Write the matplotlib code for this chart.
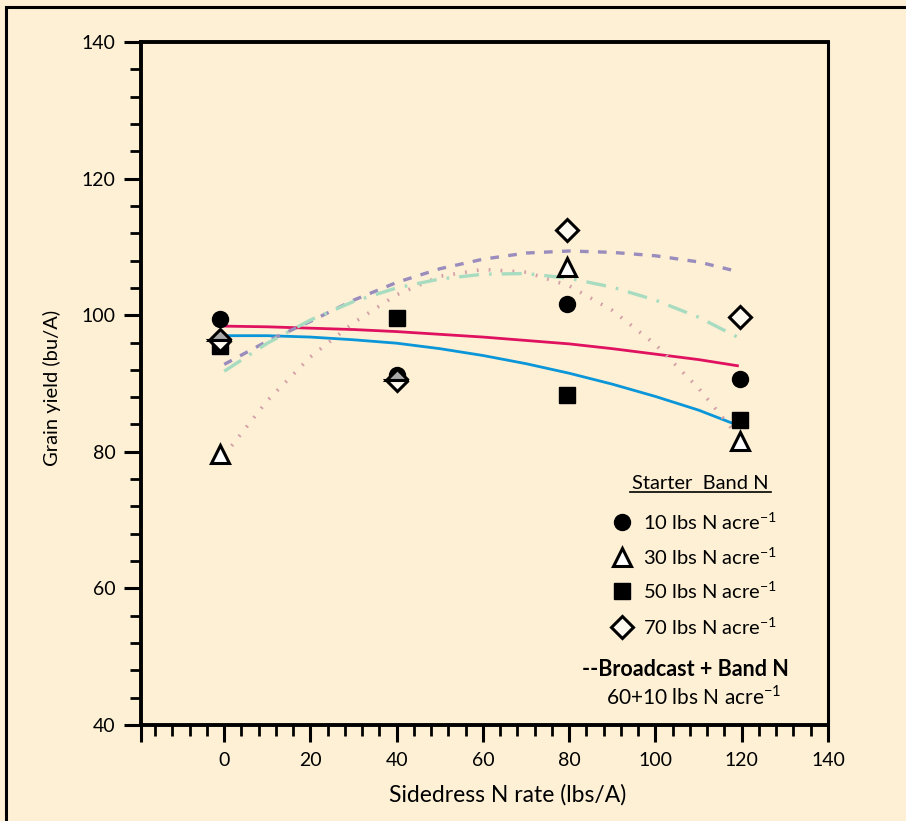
import numpy as np
import matplotlib.pyplot as plt
from matplotlib.patches import Rectangle
from matplotlib.lines import Line2D

# sidedress N rate (x) and grain yield (y) for each starter band N rate
x_pts = [-1, 40, 79.5, 119.5]
y_10 = [99.5, 91.2, 101.6, 90.7]
y_30 = [79.7, np.nan, 107.1, 81.6]
y_50 = [95.5, 99.6, 88.3, 84.6]
y_70 = [96.3, 90.5, 112.5, 99.8]

# fitted curves
curve_x = [0, 10, 20, 30, 40, 50, 60, 70, 80, 90, 100, 110, 119]
fit_10 = [98.4, 98.3, 98.1, 97.9, 97.6, 97.2, 96.8, 96.3, 95.8, 95.1, 94.3, 93.5, 92.6]
fit_50 = [97.0, 97.0, 96.8, 96.4, 95.9, 95.1, 94.1, 92.9, 91.5, 89.9, 88.1, 86.1, 83.9]
fit_30 = [79.5, 87.5, 93.9, 98.9, 103.0, 105.7, 106.7, 106.3, 104.3, 100.7, 95.7, 89.3, 82.4]
fit_70 = [92.8, 96.2, 99.1, 102.2, 104.8, 106.8, 108.2, 109.1, 109.4, 109.2, 108.7, 107.8, 106.4]
fit_bc = [91.8, 95.9, 99.3, 102.0, 104.0, 105.3, 106.0, 106.1, 105.4, 104.1, 102.2, 99.7, 96.8]

legend_labels = ['10 lbs N acre', '30 lbs N acre', '50 lbs N acre', '70 lbs N acre']

plt.rcParams['font.family'] = ['Lato', 'DejaVu Sans']
plt.rcParams['mathtext.fontset'] = 'custom'
plt.rcParams['mathtext.rm'] = 'Lato'

bg = '#fdf0d5'
W, H = 906, 821
fig = plt.figure(figsize=(W / 100, H / 100), dpi=100, facecolor=bg)
ax = fig.add_axes([141 / W, 1 - 725 / H, 687 / W, 683 / H], facecolor=bg)

# outer frame
fig.add_artist(Rectangle((6 / W, -0.1), 1.2, 1.1 - 7 / H, transform=fig.transFigure,
                         fill=False, lw=2.2, ec='black'))

# curves
ax.plot(curve_x, fit_10, color='#e0115f', lw=2.0, zorder=2)
ax.plot(curve_x, fit_50, color='#0a96d8', lw=2.0, zorder=2)
ax.plot(curve_x, fit_30, color='#d4a0a8', lw=2.6, ls=(0, (0.5, 2.8)), zorder=2)
ax.plot(curve_x, fit_70, color='#9a8dbd', lw=2.4, ls=(0, (2.6, 2.8)), zorder=2)
ax.plot(curve_x, fit_bc, color='#a8dcc0', lw=2.4, ls=(0, (6, 3, 0.8, 3)), zorder=2)

# markers
ax.plot(x_pts, y_10, 'o', ms=11.5, color='black', zorder=3)
ax.plot(x_pts, y_30, '^', ms=12.5, mfc='white', mec='black', mew=2.2, zorder=3)
ax.plot(x_pts, y_50, 's', ms=11.5, color='black', zorder=3)
ax.plot(x_pts[:2], y_70[:2], 'D', ms=11, fillstyle='top', mfc='#a9a9a9',
        markerfacecoloralt='#fffaf0', mec='black', mew=2.2, zorder=4)
ax.plot(x_pts[2:], y_70[2:], 'D', ms=11, mfc='#fffaf0', mec='black', mew=2.2, zorder=4)

# axes
ax.set_xlim(-19.3, 140)
ax.set_ylim(40, 140)
ax.set_xticks([-19.3] + list(range(0, 141, 20)))
ax.set_xticklabels([''] + [str(v) for v in range(0, 141, 20)])
ax.set_xticks(np.arange(-16, 140, 4), minor=True)
ax.set_yticks(range(40, 141, 20))
ax.set_yticks(np.arange(44, 140, 4), minor=True)
ax.tick_params(which='major', direction='out', length=12.5, width=2.2,
               labelsize=14, pad=6, top=False, right=False)
ax.tick_params(which='minor', direction='out', length=8, width=2,
               top=False, right=False)
ax.tick_params(axis='x', which='major', pad=7)
for s in ax.spines.values():
    s.set_linewidth(2.8)
ax.spines['right'].set_linewidth(2.2)

ax.set_xlabel('Sidedress N rate (lbs/A)', fontsize=16.5)
ax.xaxis.set_label_coords(0.534, -0.086)
ax.set_ylabel('Grain yield (bu/A)', fontsize=14.5)
ax.yaxis.set_label_coords(-0.117, 0.493)

# legend drawn by hand
tr = ax.transAxes
ax.text(0.814, 0.353, 'Starter  Band N', transform=tr, ha='center', va='center',
        fontsize=14.5)
ax.add_line(Line2D([(630 - 141) / 687, (771 - 141) / 687], [(725 - 492) / 683] * 2,
                   transform=tr, color='black', lw=1.2, clip_on=False))
rows = [0.2968, 0.2464, 0.1962, 0.1439]
styles = [dict(marker='o', ms=11.5, color='black'),
          dict(marker='^', ms=12.5, mfc='white', mec='black', mew=2.2),
          dict(marker='s', ms=11.5, color='black'),
          dict(marker='D', ms=11, mfc='#fffaf0', mec='black', mew=2.2)]
for fy, lab, st in zip(rows, legend_labels, styles):
    ax.plot([0.6997], [fy], transform=tr, clip_on=False, ls='none', **st)
    ax.text(0.730, fy, lab + r'$^{\mathregular{-1}}$', transform=tr, ha='left',
            va='center', fontsize=14.5)
ax.text(0.793, 0.0816, '--Broadcast + Band N', transform=tr, ha='center',
        va='center', fontsize=15.5, fontweight='bold')
ax.text(0.805, 0.0414, r'60+10 lbs N acre$^{\mathregular{-1}}$', transform=tr,
        ha='center', va='center', fontsize=15)

fig.savefig('out.png', dpi=100, facecolor=bg)
